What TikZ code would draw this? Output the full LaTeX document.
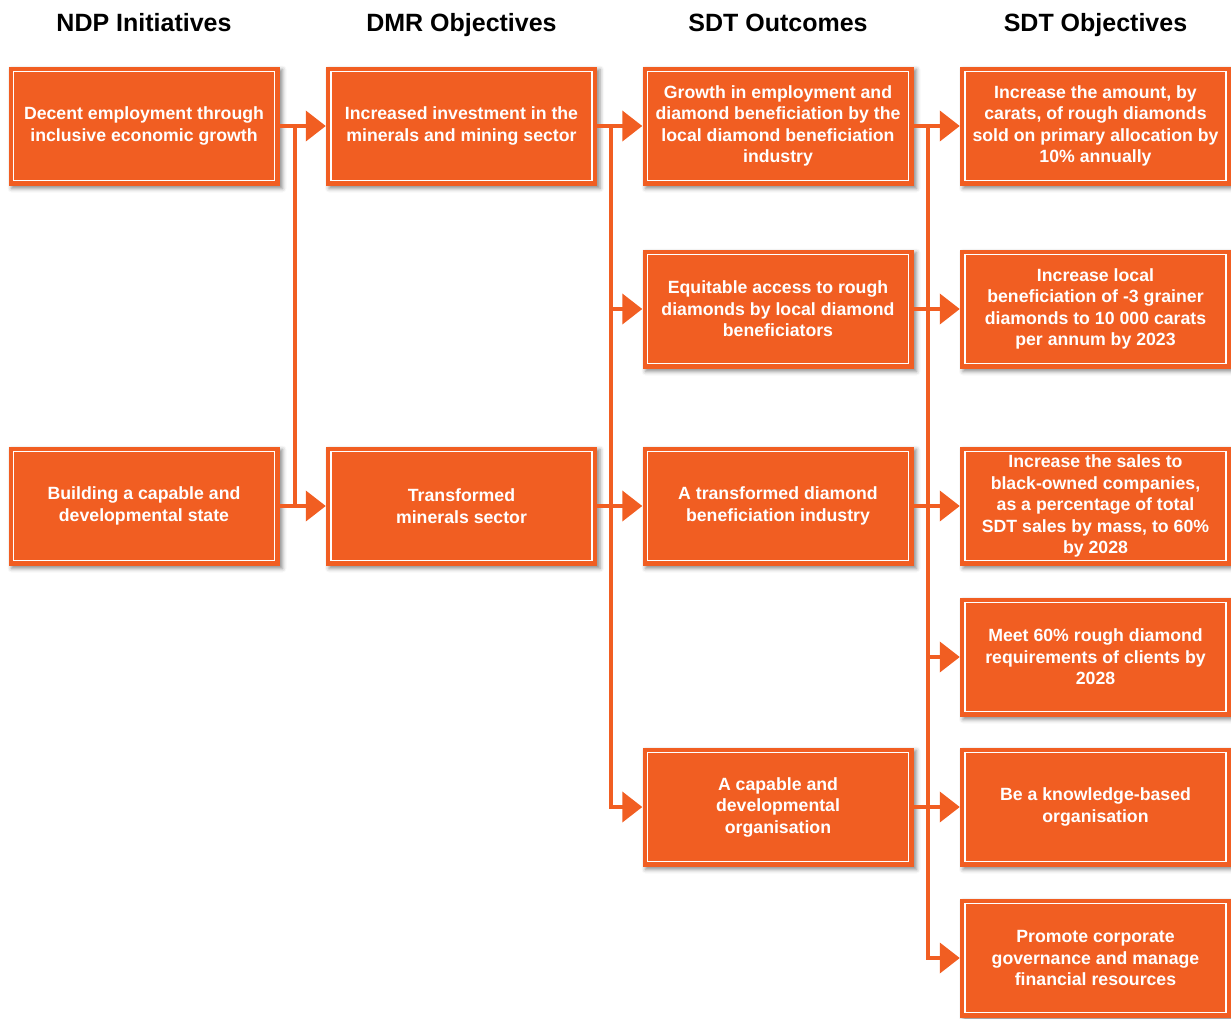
\documentclass[tikz,border=0pt]{standalone}
\usepackage{fontspec}
\setmainfont{Liberation Sans}
\usetikzlibrary{arrows.meta,shadows.blur}
\definecolor{sdtorange}{HTML}{F15E22}

\begin{document}
\begin{tikzpicture}[x=1pt,y=-1pt,
		box/.style={ rectangle, fill=sdtorange, text=white, inner sep=0pt, minimum width=271pt, minimum height=119pt, align=center,
			font=\fontsize{17.7}{21.5}\selectfont\bfseries,
			blur shadow={shadow xshift=3pt,shadow yshift=-3pt,shadow blur radius=4pt,shadow opacity=45},
			path picture={\draw[white,line width=1.2pt] ([shift={(5pt,5pt)}]path picture bounding box.south west) rectangle ([shift={(-5pt,-5pt)}]path picture bounding box.north east);} },
		head/.style={ anchor=base, font=\fontsize{25}{30}\selectfont\bfseries },
		link/.style={ draw=sdtorange, line width=4pt },
		arr/.style={ link, -{Triangle[length=20pt,width=30pt]} } ]
	\useasboundingbox (0,0) rectangle (1231,1018);

	% column titles
	\node[head] (h1) at (144,31.5) {NDP Initiatives};
	\node[head] (h2) at (461.5,31.5) {DMR Objectives};
	\node[head] (h3) at (778,31.5) {SDT Outcomes};
	\node[head] (h4) at (1095.5,31.5) {SDT Objectives};

	\node[box] (ndp1) at (144,126) {Decent employment through\\inclusive economic growth};
	\node[box] (ndp2) at (144,506) {Building a capable and\\developmental state};

	\node[box] (dmr1) at (461.5,126) {Increased investment in the\\minerals and mining sector};
	\node[box] (dmr2) at (461.5,506) {Transformed\\minerals sector};

	\node[box] (out1) at (778,126) {Growth in employment and\\diamond beneficiation by the\\local diamond beneficiation\\industry};
	\node[box] (out2) at (778,309) {Equitable access to rough\\diamonds by local diamond\\beneficiators};
	\node[box] (out3) at (778,506) {A transformed diamond\\beneficiation industry};
	\node[box] (out4) at (778,807) {A capable and\\developmental\\organisation};

	\node[box] (obj1) at (1095.5,126) {Increase the amount, by\\carats, of rough diamonds\\sold on primary allocation by\\10\% annually};
	\node[box] (obj2) at (1095.5,309) {Increase local\\beneficiation of -3 grainer\\diamonds to 10 000 carats\\per annum by 2023};
	\node[box] (obj3) at (1095.5,506) {Increase the sales to\\black-owned companies,\\as a percentage of total\\SDT sales by mass, to 60\%\\by 2028};
	\node[box] (obj4) at (1095.5,657) {Meet 60\% rough diamond\\requirements of clients by\\2028};
	\node[box] (obj5) at (1095.5,807) {Be a knowledge-based\\organisation};
	\node[box] (obj6) at (1095.5,958) {Promote corporate\\governance and manage\\financial resources};

	% vertical buses between the columns
	\coordinate (b1) at (295,0);
	\coordinate (b2) at (611,0);
	\coordinate (b3) at (928,0);

	\draw[arr] (ndp1) -- (dmr1);
	\draw[arr] (ndp2) -- (dmr2);
	\draw[link] (ndp1.east -| b1) -- (ndp2.east -| b1);

	\draw[arr] (dmr1) -- (out1);
	\draw[arr] (dmr2) -- (out3);
	\draw[arr] (out2.west -| b2) -- (out2);
	\draw[arr] (dmr1.east -| b2) |- (out4);

	\draw[arr] (out1) -- (obj1);
	\draw[arr] (out2) -- (obj2);
	\draw[arr] (out3) -- (obj3);
	\draw[arr] (out4) -- (obj5);
	\draw[arr] (obj4.west -| b3) -- (obj4);
	\draw[arr] (out1.east -| b3) |- (obj6);
\end{tikzpicture}
\end{document}
